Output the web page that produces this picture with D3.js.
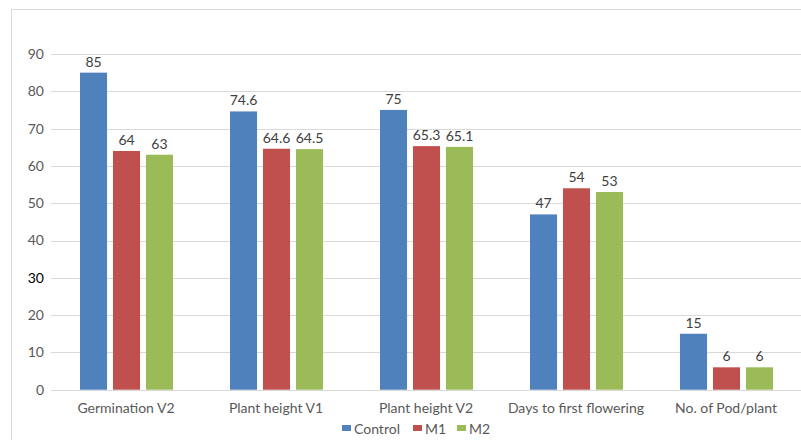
<!DOCTYPE html>
<html><head><meta charset="utf-8">
<script src="https://cdn.jsdelivr.net/npm/d3@7"></script>
<style>body{margin:0;background:#fff}svg{display:block}</style>
</head><body><svg id="c" width="801" height="440"></svg>
<script>
const categories = ["Germination V2","Plant height V1","Plant height V2","Days to first flowering","No. of Pod/plant"];
const seriesNames = ["Control","M1","M2"];
const control = [85,74.6,75,47,15];
const m1 = [64,64.6,65.3,54,6];
const m2 = [63,64.5,65.1,53,6];
const valueLabels = [["85","74.6","75","47","15"],["64","64.6","65.3","54","6"],["63","64.5","65.1","53","6"]];
const yTicks = [0,10,20,30,40,50,60,70,80,90];
const colors = ["#4F81BD","#C0504D","#9BBB59"];
const series = [control,m1,m2];

const svg = d3.select("#c");
const font = "Lato, 'Open Sans', sans-serif";
svg.append("rect").attr("x",11.5).attr("y",9.5).attr("width",820).attr("height",460)
  .attr("fill","#fff").attr("stroke","#d9d9d9").attr("stroke-width",1);

const x0 = d3.scaleBand().domain(categories).range([51,801]);
const x1 = d3.scaleBand().domain(seriesNames).range([29,122]).paddingInner(0.18);
const y = d3.scaleLinear().domain([0,90]).range([389.7,54]);

const g = svg.append("g");
g.selectAll("line.grid").data(yTicks).join("line")
  .attr("x1",51).attr("x2",801).attr("y1",d=>Math.round(y(d))+0.5).attr("y2",d=>Math.round(y(d))+0.5)
  .attr("stroke","#d9d9d9").attr("stroke-width",1);
g.selectAll("text.yt").data(yTicks).join("text")
  .attr("x",44).attr("y",d=>y(d)).attr("dy","0.35em").attr("text-anchor","end")
  .attr("font-family",font).attr("font-size",14).attr("fill",d=>d===30?"#000":"#595959").text(d=>d);

series.forEach((s,si)=>{
  const gs = svg.append("g");
  gs.selectAll("rect").data(s).join("rect")
    .attr("x",(d,i)=>x0(categories[i])+x1(seriesNames[si]))
    .attr("width",x1.bandwidth())
    .attr("y",d=>y(d)).attr("height",d=>y(0)-y(d)).attr("fill",colors[si]);
  gs.selectAll("text").data(s).join("text")
    .attr("x",(d,i)=>x0(categories[i])+x1(seriesNames[si])+x1.bandwidth()/2)
    .attr("y",d=>y(d)-6).attr("text-anchor","middle")
    .attr("font-family",font).attr("font-size",14).attr("fill","#404040")
    .text((d,i)=>valueLabels[si][i]);
});

svg.selectAll("text.cat").data(categories).join("text")
  .attr("x",d=>x0(d)+x0.bandwidth()/2).attr("y",413).attr("text-anchor","middle")
  .attr("font-family",font).attr("font-size",14).attr("fill","#595959").text(d=>d);

const legX = [342,413,457];
const lg = svg.append("g");
seriesNames.forEach((n,i)=>{
  lg.append("rect").attr("x",legX[i]).attr("y",425).attr("width",9).attr("height",6).attr("fill",colors[i]);
  lg.append("text").attr("x",legX[i]+12).attr("y",434).attr("font-family",font).attr("font-size",14)
    .attr("fill","#595959").text(n);
});
</script></body></html>
